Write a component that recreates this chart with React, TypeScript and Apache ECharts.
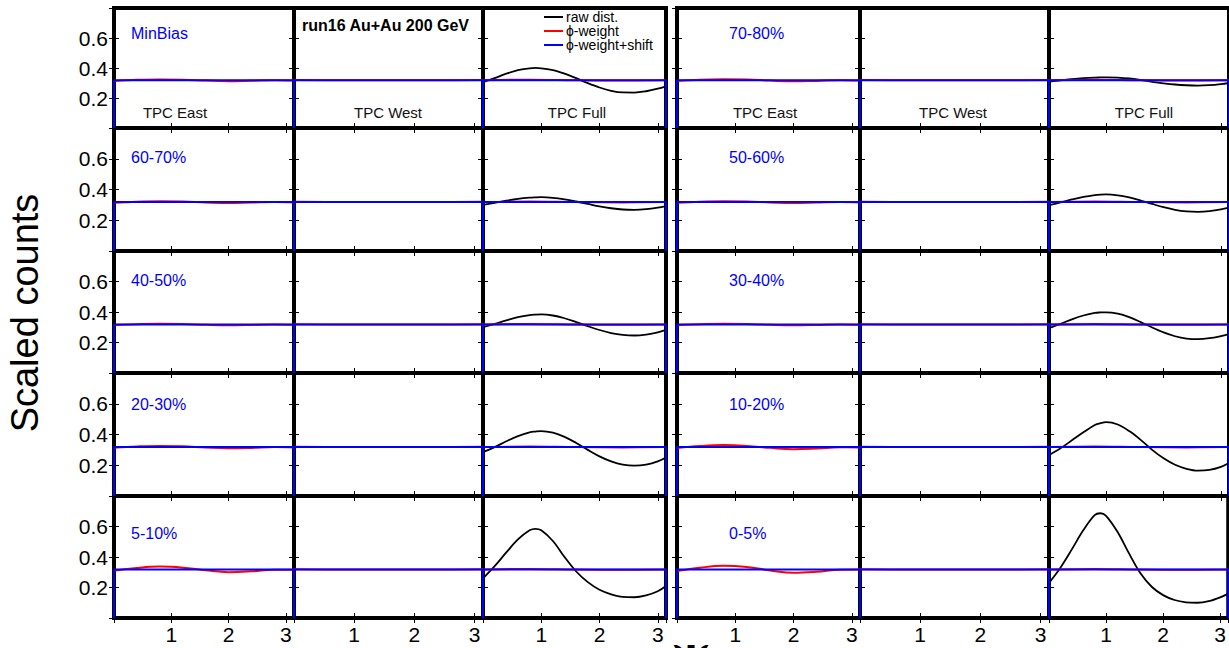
import React, { useEffect, useRef } from "react";
import * as echarts from "echarts";

// ---------------- data ----------------
const PHI_MAX = 3.1416;
const BLUE_LEVEL = 0.318;

const phiGrid = [0, 0.2, 0.4, 0.6, 0.8, 0.9, 1.0, 1.2, 1.4, 1.6, 1.8, 2.0, 2.2, 2.4, 2.6, 2.8, 3.0, 3.14];
const redGrid = [0, 0.4, 0.8, 1.2, 1.6, 2.0, 2.4, 2.8, 3.14];
const flatGrid = [0, 0.8, 1.6, 2.4, 3.14];

const leftCentralities = ["MinBias", "60-70%", "40-50%", "20-30%", "5-10%"];
const rightCentralities = ["70-80%", "50-60%", "30-40%", "10-20%", "0-5%"];
const detectorLabels = ["TPC East", "TPC West", "TPC Full"];
const xTickLabels = [1, 2, 3];
const yTickLabels = [0.2, 0.4, 0.6];

// raw distribution (TPC Full), on phiGrid
const rawMinBias = [0.305, 0.332, 0.362, 0.386, 0.398, 0.401, 0.398, 0.386, 0.362, 0.332, 0.299, 0.270, 0.248, 0.237, 0.236, 0.245, 0.262, 0.278];
const raw7080 = [0.310, 0.318, 0.326, 0.332, 0.336, 0.337, 0.338, 0.336, 0.330, 0.320, 0.308, 0.298, 0.290, 0.285, 0.283, 0.286, 0.293, 0.300];
const raw6070 = [0.300, 0.313, 0.327, 0.339, 0.347, 0.349, 0.350, 0.346, 0.336, 0.322, 0.306, 0.290, 0.278, 0.270, 0.268, 0.272, 0.282, 0.292];
const raw5060 = [0.298, 0.316, 0.335, 0.352, 0.364, 0.367, 0.368, 0.362, 0.348, 0.328, 0.306, 0.285, 0.268, 0.258, 0.255, 0.259, 0.270, 0.282];
const raw4050 = [0.300, 0.322, 0.345, 0.366, 0.380, 0.383, 0.384, 0.377, 0.359, 0.334, 0.307, 0.282, 0.262, 0.250, 0.246, 0.252, 0.266, 0.283];
const raw3040 = [0.295, 0.322, 0.352, 0.377, 0.394, 0.397, 0.398, 0.389, 0.366, 0.334, 0.298, 0.266, 0.241, 0.226, 0.222, 0.228, 0.242, 0.255];
const raw2030 = [0.285, 0.318, 0.356, 0.390, 0.414, 0.419, 0.422, 0.412, 0.385, 0.345, 0.300, 0.258, 0.225, 0.204, 0.197, 0.204, 0.225, 0.250];
const raw1020 = [0.265, 0.310, 0.362, 0.414, 0.462, 0.474, 0.480, 0.465, 0.422, 0.365, 0.300, 0.245, 0.203, 0.177, 0.165, 0.170, 0.190, 0.215];
const raw0510 = [0.260, 0.340, 0.430, 0.515, 0.575, 0.585, 0.575, 0.505, 0.400, 0.305, 0.235, 0.185, 0.155, 0.138, 0.136, 0.148, 0.175, 0.210];
const raw0005 = [0.230, 0.330, 0.450, 0.575, 0.675, 0.687, 0.670, 0.565, 0.425, 0.295, 0.205, 0.150, 0.118, 0.103, 0.100, 0.110, 0.135, 0.160];

// phi-weight (TPC East), on redGrid
const redEastMinBias = [0.314, 0.321, 0.324, 0.322, 0.316, 0.312, 0.315, 0.318, 0.316];
const redEast7080 = [0.314, 0.322, 0.325, 0.323, 0.316, 0.311, 0.314, 0.318, 0.316];
const redEast6070 = [0.314, 0.321, 0.324, 0.322, 0.316, 0.312, 0.315, 0.318, 0.316];
const redEast5060 = [0.314, 0.321, 0.324, 0.322, 0.316, 0.312, 0.315, 0.318, 0.316];
const redEast4050 = [0.315, 0.320, 0.323, 0.321, 0.316, 0.313, 0.315, 0.318, 0.316];
const redEast3040 = [0.315, 0.320, 0.323, 0.321, 0.316, 0.313, 0.315, 0.318, 0.316];
const redEast2030 = [0.314, 0.322, 0.326, 0.323, 0.315, 0.310, 0.313, 0.318, 0.316];
const redEast1020 = [0.312, 0.325, 0.331, 0.326, 0.313, 0.304, 0.309, 0.317, 0.316];
const redEast0510 = [0.310, 0.328, 0.337, 0.330, 0.313, 0.300, 0.306, 0.317, 0.316];
const redEast0005 = [0.308, 0.330, 0.342, 0.334, 0.312, 0.296, 0.303, 0.317, 0.318];

// phi-weight (TPC West / TPC Full), on flatGrid
const redWest = [0.320, 0.318, 0.318, 0.318, 0.320];
const redFull = [0.318, 0.322, 0.318, 0.316, 0.318];

const leftRaw = [rawMinBias, raw6070, raw4050, raw2030, raw0510];
const rightRaw = [raw7080, raw5060, raw3040, raw1020, raw0005];
const leftRedEast = [redEastMinBias, redEast6070, redEast4050, redEast2030, redEast0510];
const rightRedEast = [redEast7080, redEast5060, redEast3040, redEast1020, redEast0005];

// ---------------- layout ----------------
const FONT = "'Liberation Sans', Arial, Helvetica, sans-serif";
const colLeft = [
  [114, 294, 483],
  [677, 860, 1049],
];
const colWidth = [
  [180, 189, 183],
  [183, 189, 183],
];
const rowTop = [8, 128, 251, 373, 496];
const rowHeight = [120, 123, 122, 123, 122];
const centLabelX = [131, 729];
const centLabelY = [33, 157, 280, 404, 533];
const detLabelX = [
  [175, 388, 577],
  [765, 953, 1144],
];

const pairs = (xs: number[], ys: number[]) => xs.map((x, i) => [x, ys[i]]);

function buildOption() {
  const grid: any[] = [];
  const xAxis: any[] = [];
  const yAxis: any[] = [];
  const series: any[] = [];
  const graphic: any[] = [];
  const topAxes: any[] = [];
  const rightAxes: any[] = [];

  let idx = 0;
  for (let g = 0; g < 2; g++) {
    for (let r = 0; r < 5; r++) {
      for (let c = 0; c < 3; c++) {
        grid.push({
          left: colLeft[g][c],
          top: rowTop[r],
          width: colWidth[g][c],
          height: rowHeight[r],
          show: true,
          borderColor: "#000",
          borderWidth: 4,
          backgroundColor: "transparent",
        });
        const showX = r === 4;
        const showY = g === 0 && c === 0;
        xAxis.push({
          gridIndex: idx,
          type: "value",
          min: 0,
          max: PHI_MAX,
          interval: 1,
          axisLine: { show: false },
          splitLine: { show: false },
          axisTick: { show: true, inside: true, length: 5, lineStyle: { color: "#000", width: 1 } },
          axisLabel: {
            show: showX,
            showMinLabel: false,
            showMaxLabel: false,
            formatter: (v: number) => (xTickLabels.includes(v) ? String(v) : ""),
            fontSize: 21,
            color: "#000",
            fontFamily: FONT,
            margin: 6,
          },
        });
        yAxis.push({
          gridIndex: idx,
          type: "value",
          min: 0,
          max: 0.8,
          interval: 0.2,
          axisLine: { show: false },
          splitLine: { show: false },
          axisTick: { show: true, inside: true, length: 5, lineStyle: { color: "#000", width: 1 } },
          axisLabel: {
            show: showY,
            showMinLabel: false,
            showMaxLabel: false,
            formatter: (v: number) => {
              const hit = yTickLabels.find((t) => Math.abs(t - v) < 1e-6);
              return hit !== undefined ? hit.toFixed(1) : "";
            },
            fontSize: 21,
            color: "#000",
            fontFamily: FONT,
            margin: 6,
          },
        });
        topAxes.push({
          gridIndex: idx,
          type: "value",
          position: "top",
          min: 0,
          max: PHI_MAX,
          interval: 1,
          axisLine: { show: false },
          splitLine: { show: false },
          axisTick: { show: true, inside: true, length: 5, lineStyle: { color: "#000", width: 1 } },
          axisLabel: { show: false },
        });
        rightAxes.push({
          gridIndex: idx,
          type: "value",
          position: "right",
          min: 0,
          max: 0.8,
          interval: 0.2,
          axisLine: { show: false },
          splitLine: { show: false },
          axisTick: { show: true, inside: true, length: 5, lineStyle: { color: "#000", width: 1 } },
          axisLabel: { show: false },
        });

        const base = { type: "line", xAxisIndex: idx, yAxisIndex: idx, symbol: "none", showSymbol: false, silent: true, clip: true };
        if (c === 2) {
          const raw = (g === 0 ? leftRaw : rightRaw)[r];
          series.push({ ...base, name: "raw dist.", smooth: 0.35, data: pairs(phiGrid, raw), lineStyle: { color: "#000", width: 1.8 }, z: 3 });
        }
        const red = c === 0 ? pairs(redGrid, (g === 0 ? leftRedEast : rightRedEast)[r]) : pairs(flatGrid, c === 1 ? redWest : redFull);
        series.push({ ...base, name: "phi-weight", smooth: 0.4, data: red, lineStyle: { color: "#ff0000", width: 2 }, z: 4 });
        series.push({
          ...base,
          name: "phi-weight+shift",
          data: [
            [0, 0],
            [0, BLUE_LEVEL],
            [PHI_MAX, BLUE_LEVEL],
            [PHI_MAX, 0],
          ],
          lineStyle: { color: "#0000ff", width: 2 },
          z: 5,
        });
        idx++;
      }
    }
  }

  // centrality labels
  for (let g = 0; g < 2; g++) {
    const labels = g === 0 ? leftCentralities : rightCentralities;
    for (let r = 0; r < 5; r++) {
      graphic.push({
        type: "text",
        x: centLabelX[g],
        y: centLabelY[r],
        style: { text: labels[r], fontSize: 16, fontFamily: FONT, fill: "#0000ff", align: "left", verticalAlign: "middle" },
        z: 10,
      });
    }
    for (let c = 0; c < 3; c++) {
      graphic.push({
        type: "text",
        x: detLabelX[g][c],
        y: 112,
        style: { text: detectorLabels[c], fontSize: 15, fontFamily: FONT, fill: "#111", align: "center", verticalAlign: "middle" },
        z: 10,
      });
    }
  }

  graphic.push({
    type: "text",
    x: 302,
    y: 25,
    style: { text: "run16 Au+Au 200 GeV", fontSize: 16, fontWeight: "bold", fontFamily: FONT, fill: "#000", align: "left", verticalAlign: "middle" },
    z: 10,
  });

  const legendItems = [
    { label: "raw dist.", color: "#000", y: 17 },
    { label: "ϕ-weight", color: "#ff0000", y: 31 },
    { label: "ϕ-weight+shift", color: "#0000ff", y: 45 },
  ];
  legendItems.forEach((it) => {
    graphic.push({ type: "line", shape: { x1: 544, y1: it.y, x2: 563, y2: it.y }, style: { stroke: it.color, lineWidth: 2 }, z: 10 });
    graphic.push({
      type: "text",
      x: 566,
      y: it.y,
      style: { text: it.label, fontSize: 14, fontFamily: FONT, fill: "#000", align: "left", verticalAlign: "middle" },
      z: 10,
    });
  });

  graphic.push({
    type: "text",
    x: 25,
    y: 313,
    rotation: Math.PI / 2,
    style: { text: "Scaled counts", fontSize: 38, fontFamily: FONT, fill: "#000", align: "center", verticalAlign: "middle" },
    z: 10,
  });

  graphic.push({
    type: "text",
    x: 691,
    y: 630,
    style: { text: "ψ", fontSize: 40, fontWeight: "bold", fontFamily: "'DejaVu Serif', serif", fill: "#000", align: "center", verticalAlign: "top" },
    z: 10,
  });

  return {
    animation: false,
    backgroundColor: "#fff",
    grid,
    xAxis: [...xAxis, ...topAxes],
    yAxis: [...yAxis, ...rightAxes],
    series,
    graphic,
  };
}

export default function App() {
  const ref = useRef<HTMLDivElement>(null);
  useEffect(() => {
    if (!ref.current) return;
    const chart = echarts.init(ref.current, undefined, { renderer: "svg" });
    chart.setOption(buildOption() as any);
    return () => chart.dispose();
  }, []);
  return <div ref={ref} style={{ position: "absolute", left: 0, top: 0, width: 1229, height: 648 }} />;
}
